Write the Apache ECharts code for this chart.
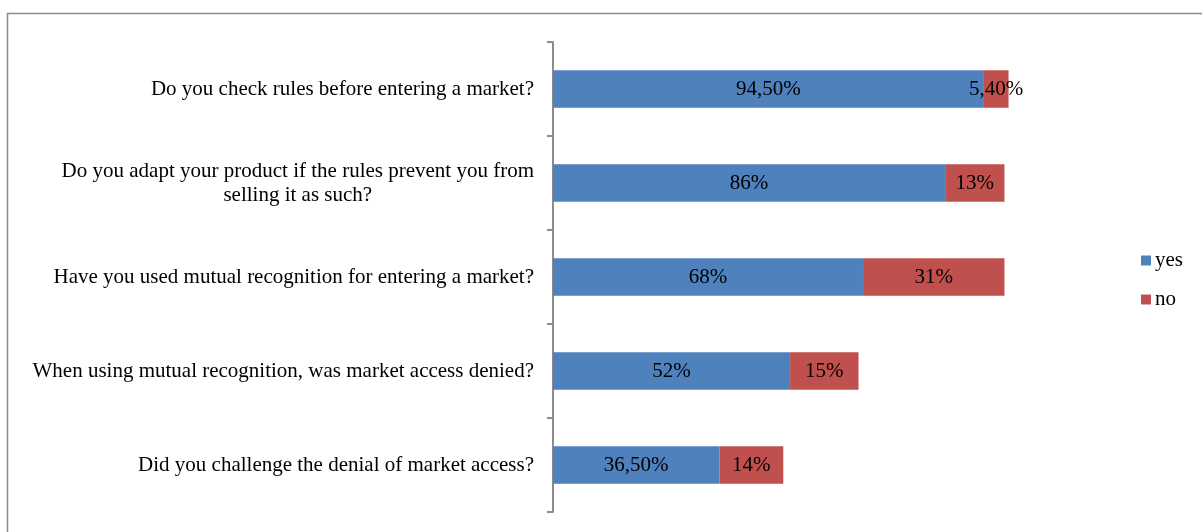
<!DOCTYPE html>
<html>
<head>
<meta charset="utf-8">
<script src="https://cdn.jsdelivr.net/npm/echarts@6/dist/echarts.min.js"></script>
<style>
  html, body { margin: 0; padding: 0; background: #fff; }
  #chart { width: 1202px; height: 532px; }
</style>
</head>
<body>
<div id="chart"></div>
<script>
// survey questions, top to bottom
var questions = [
    'Do you check rules before entering a market?',
    'Do you adapt your product if the rules prevent you from\nselling it as such?',
    'Have you used mutual recognition for entering a market?',
    'When using mutual recognition, was market access denied?',
    'Did you challenge the denial of market access?'
];
var yesValues = [94.5, 86, 68, 52, 36.5];
var noValues = [5.4, 13, 31, 15, 14];
var seriesNames = ['yes', 'no'];

var fontFamily = '"Liberation Serif", "Times New Roman", serif';
var fontSize = 21;

// 94.5 -> "94,50%", 86 -> "86%"
function pct(v) {
    if (Number.isInteger(v)) return v + '%';
    return v.toFixed(2).replace('.', ',') + '%';
}

var myChart = echarts.init(document.getElementById('chart'));
var option = {
    animation: false,
    graphic: [{
        type: 'rect',
        shape: { x: 7.5, y: 13.5, width: 1300, height: 700 },
        style: { fill: 'none', stroke: '#8c8c8c', lineWidth: 1.5 },
        silent: true
    }],
    legend: {
        orient: 'vertical',
        left: 1136,
        top: 245,
        itemWidth: 10,
        itemHeight: 10,
        itemGap: 18,
        icon: 'rect',
        data: seriesNames,
        textStyle: { fontFamily: fontFamily, fontSize: fontSize, color: '#000', padding: [0, 0, 0, -1] }
    },
    grid: { left: 553, right: 193, top: 42, bottom: 20, containLabel: false },
    xAxis: {
        type: 'value',
        min: 0,
        max: 100,
        show: false
    },
    yAxis: {
        type: 'category',
        inverse: true,
        data: questions,
        axisLine: { show: true, lineStyle: { color: '#8c8c8c', width: 2 } },
        axisTick: { show: true, length: 6, lineStyle: { color: '#8c8c8c', width: 2 } },
        axisLabel: {
            margin: 19,
            color: '#000',
            fontFamily: fontFamily,
            fontSize: fontSize,
            lineHeight: 24,
            formatter: function (v) {
                return v.split('\n').map(function (l) { return '{c|' + l + '}'; }).join('\n');
            },
            rich: {
                c: { align: 'center', fontFamily: fontFamily, fontSize: fontSize, lineHeight: 24, color: '#000' }
            }
        }
    },
    series: [
        {
            name: 'yes',
            type: 'bar',
            stack: 'total',
            barCategoryGap: '60%',
            data: yesValues,
            itemStyle: { color: '#4F81BD' },
            label: {
                show: true, position: 'inside', color: '#000',
                fontFamily: fontFamily, fontSize: fontSize,
                formatter: function (p) { return pct(p.value); }
            }
        },
        {
            name: 'no',
            type: 'bar',
            stack: 'total',
            barCategoryGap: '60%',
            data: noValues,
            itemStyle: { color: '#C0504D' },
            label: {
                show: true, position: 'inside', color: '#000',
                fontFamily: fontFamily, fontSize: fontSize,
                formatter: function (p) { return pct(p.value); }
            }
        }
    ]
};
myChart.setOption(option);
</script>
</body>
</html>
